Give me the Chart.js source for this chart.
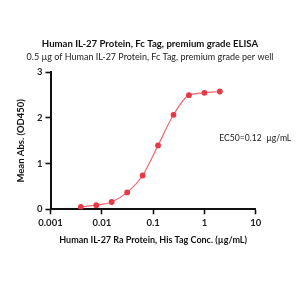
<!DOCTYPE html>
<html>
<head>
<meta charset="utf-8">
<script src="https://cdn.jsdelivr.net/npm/chart.js@4"></script>
<style>
  html, body { margin: 0; padding: 0; background: #fff; }
  #wrap { width: 300px; height: 300px; }
</style>
</head>
<body>
<div id="wrap"><canvas id="elisaChart" width="300" height="300"></canvas></div>
<script>
// concentration (µg/mL) and mean absorbance
var concs = [0.0039, 0.0078, 0.0156, 0.03125, 0.0625, 0.125, 0.25, 0.5, 1, 2];
var absVals = [0.05, 0.09, 0.16, 0.37, 0.74, 1.40, 2.07, 2.50, 2.55, 2.58];
var xTicks = [0.001, 0.01, 0.1, 1, 10];
var yTicks = [0, 1, 2, 3];
var ec50Text = 'EC50=0.12  \u00b5g/mL';

var fontFam = 'Lato, "Open Sans", sans-serif';

// EC50 note, placed with the chart's own scales
var ec50Label = {
    id: 'ec50Label',
    afterDatasetsDraw: function (chart) {
        var ctx = chart.ctx;
        var x = chart.scales.x.getPixelForValue(1.95);
        var y = chart.scales.y.getPixelForValue(1.55);
        ctx.save();
        ctx.font = '8.6px ' + fontFam;
        ctx.fillStyle = '#222';
        ctx.textAlign = 'left';
        ctx.textBaseline = 'middle';
        ctx.fillText(ec50Text, x, y);
        ctx.restore();
    }
};

document.addEventListener('DOMContentLoaded', function () {
    const ctx = document.getElementById('elisaChart').getContext('2d');
    var pts = concs.map(function (c, i) { return { x: c, y: absVals[i] }; });

    new Chart(ctx, {
        type: 'scatter',
        data: {
            datasets: [{
                label: 'IL-27',
                data: pts,
                showLine: true,
                cubicInterpolationMode: 'monotone',
                borderColor: '#f06a70',
                borderWidth: 1.2,
                backgroundColor: '#e63946',
                pointBackgroundColor: '#e63946',
                pointBorderColor: '#e63946',
                pointRadius: 2.3
            }]
        },
        options: {
            responsive: false,
            animation: false,
            layout: { padding: { left: 0, right: 0, top: 0, bottom: 50 } },
            scales: {
                x: {
                    type: 'logarithmic',
                    min: 0.001,
                    max: 10,
                    afterBuildTicks: function (scale) {
                        scale.ticks = xTicks.map(function (v) { return { value: v }; });
                    },
                    afterFit: function (scale) { scale.height = 40.7; },
                    border: { color: '#111', width: 2 },
                    grid: { drawOnChartArea: false, tickLength: 5, tickColor: '#111', tickWidth: 1.6 },
                    ticks: {
                        padding: 3,
                        color: '#222',
                        font: { family: fontFam, size: 9.5, weight: 'bold' },
                        maxRotation: 0,
                        callback: function (v) { return String(v); }
                    },
                    title: {
                        display: true,
                        text: 'Human IL-27 Ra Protein, His Tag Conc. (\u00b5g/mL)',
                        color: '#111',
                        font: { family: fontFam, size: 9, weight: 'bold' },
                        padding: { top: 4, bottom: 5 }
                    }
                },
                y: {
                    min: 0,
                    max: 3,
                    afterBuildTicks: function (scale) {
                        scale.ticks = yTicks.map(function (v) { return { value: v }; });
                    },
                    afterFit: function (scale) { scale.width = 50.5; },
                    border: { color: '#111', width: 2 },
                    grid: { drawOnChartArea: false, tickLength: 5, tickColor: '#111', tickWidth: 1.6 },
                    ticks: {
                        padding: 3,
                        color: '#222',
                        font: { family: fontFam, size: 9.5, weight: 'bold' }
                    },
                    title: {
                        display: true,
                        text: 'Mean Abs. (OD450)',
                        color: '#111',
                        font: { family: fontFam, size: 9.5, weight: 'bold' },
                        padding: { top: 15, bottom: 0 }
                    }
                },
                // empty right-hand axis that only keeps room for the EC50 note
                yRight: {
                    position: 'right',
                    display: true,
                    min: 0,
                    max: 3,
                    afterFit: function (scale) { scale.width = 44.3; },
                    border: { display: false },
                    grid: { display: false },
                    ticks: { display: false }
                }
            },
            plugins: {
                legend: { display: false },
                tooltip: { enabled: false },
                title: {
                    display: true,
                    text: 'Human IL-27 Protein, Fc Tag, premium grade ELISA',
                    color: '#111',
                    font: { family: fontFam, size: 9.6, weight: 'bold' },
                    padding: { top: 38, bottom: 2 }
                },
                subtitle: {
                    display: true,
                    text: '0.5 \u00b5g of Human IL-27 Protein, Fc Tag, premium grade per well',
                    color: '#222',
                    font: { family: fontFam, size: 9 },
                    padding: { top: 0, bottom: 10 }
                }
            }
        },
        plugins: [ec50Label]
    });
});
</script>
</body>
</html>
